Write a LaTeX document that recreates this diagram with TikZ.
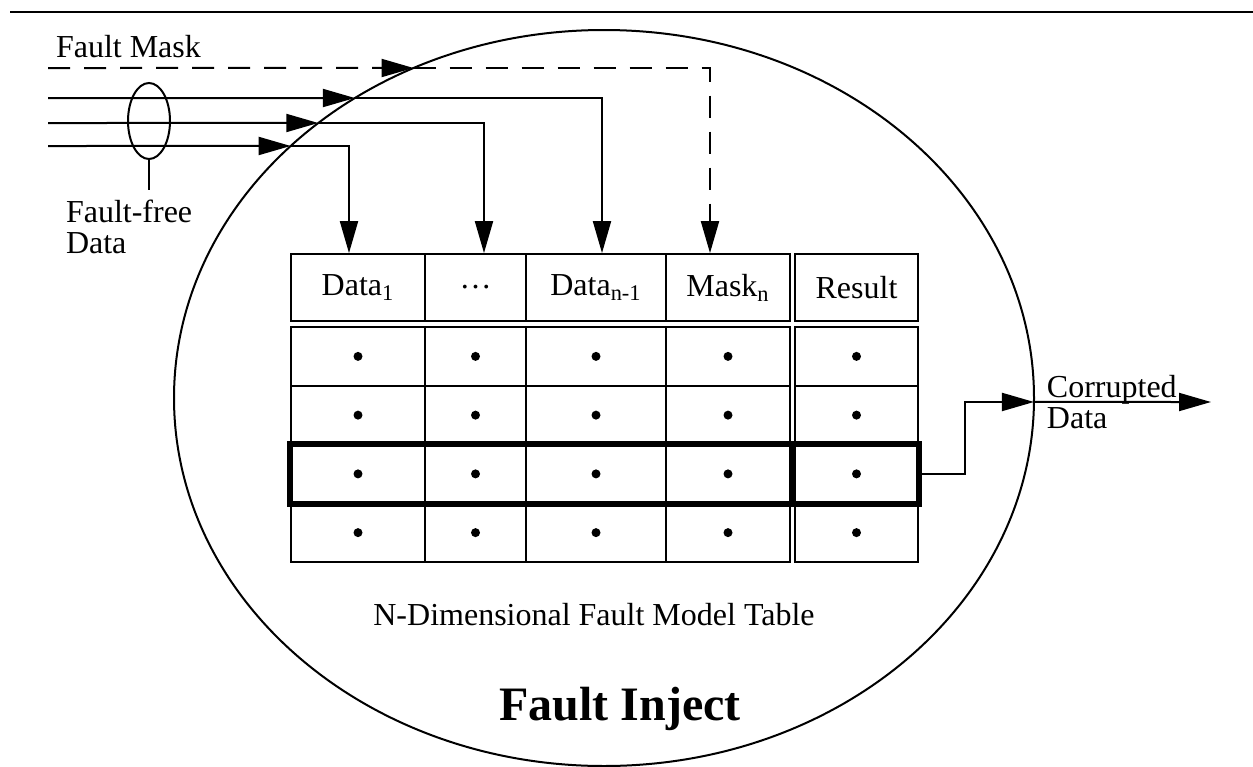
\documentclass[tikz,border=0pt]{standalone}
\usepackage{fontspec}
\setmainfont{Liberation Serif}
\usetikzlibrary{arrows.meta,              % .
                shapes.geometric,         % .
                intersections,            % .
                calc}

\begin{document}
\begin{tikzpicture}[x=0.5pt,y=-0.5pt,line width=1pt,
                    >={Triangle[length=16pt,width=9pt]}
                    ]
                % define styles
\tikzset{lbl/.style={font=\fontsize{16}{15.5}\selectfont,
                       inner sep=0,
                       },
         cell/.style={draw,
                       line width=0.9pt,
                       inner sep=0,
                       minimum height=29.375pt,
                       },
         head/.style={cell,
                       minimum height=33.5pt,
                       },
         celldot/.style={circle,
                       fill=black,
                       inner sep=0,
                       minimum size=4.5pt,
                       },
         hirow/.style={draw,
                       line width=3pt,
                       },
         maskline/.style={dash pattern=on 11pt off 7pt}
}

\useasboundingbox (0,0) rectangle (1253,766);

% top rule
\draw[line width=1.2pt] (10,12) -- (1253,12);

% fault injector outline
\draw[name path=inject] (604,398) ellipse [x radius=430, y radius=368];

% table header
\foreach \c/\cx/\w/\txt in {1/358/67/Data\textsubscript{1},
                            2/475.5/50.5/\dots,
                            3/596/70/Data\textsubscript{n-1},
                            4/728/62/Mask\textsubscript{n},
                            5/856.5/61.5/Result}
    \node[head, lbl, minimum width=\w pt] (h\c) at (\cx,287.5) {\txt};

% table rows
\foreach \r/\cy in {1/356.375, 2/415.125, 3/473.875, 4/532.625}
    \foreach \c/\cx/\w in {1/358/67, 2/475.5/50.5, 3/596/70, 4/728/62, 5/856.5/61.5}
    {
        \node[cell, minimum width=\w pt] (c\r\c) at (\cx,\cy) {};
        \node[celldot] (d\r\c) at (c\r\c) {};
    }

% selected row
\draw[hirow] (c31.north west) rectangle (c35.south east);
\draw[hirow] ($(c34.north east)!0.5!(c35.north west)$) -- ($(c34.south east)!0.5!(c35.south west)$);

% inputs
\coordinate (mask) at (48,68);
\foreach \i/\y in {1/146, 2/123, 3/98}
    \coordinate (in\i) at (48,\y);

% drop points above the header
\coordinate (t1) at ([xshift=-4.5pt]h1.north);
\coordinate (t2) at ([xshift=4.25pt]h2.north);
\coordinate (t3) at ([xshift=3pt]h3.north);
\coordinate (t4) at ([xshift=-9pt]h4.north);

\foreach \i in {1,2,3}{
    \path[name path=l\i] (in\i) -- (t\i |- in\i);
    \path[name intersections={of=inject and l\i, by={x\i}}];
    \draw[->] (in\i) -- (x\i);
    \draw[->] (x\i) -| (t\i);
}

% mask line
\path[name path=lm] (mask) -- (t4 |- mask);
\path[name intersections={of=inject and lm, by={xm}}];
\draw[->, maskline] (mask) -- (xm);
\draw[->, maskline] (xm) -| (t4);

% bundle of data lines
\node[draw, ellipse, minimum width=21pt, minimum height=38pt, inner sep=0] (bundle) at (149,121) {};

% labels
\node[lbl, anchor=base west] (fmask) at ([shift={(3.5pt,5.5pt)}]mask) {Fault Mask};
\node[lbl, align=left, anchor=north west, inner ysep=4.5pt] (ffree) at (65,190) {Fault-free\\Data};
\draw (bundle.south) -- (bundle.south |- ffree.north);

% output
\coordinate (out) at (1211,402);
\coordinate (jog) at ([xshift=23pt]c35.east);
\path[name path=exit] (jog |- out) -- (out);
\path[name intersections={of=inject and exit, by={xo}}];
\draw[->] (c35.east) -- (jog) |- (xo);
\draw[->] (xo) -- (out);
\node[lbl, align=left, anchor=west] (cdata) at ([xshift=6pt]xo) {Corrupted\\Data};

% titles
\node[lbl, anchor=base] (tname) at (594,625) {N-Dimensional Fault Model Table};
\node[lbl, anchor=base, font=\fontsize{24}{24}\selectfont\bfseries] (finject) at (620,720) {Fault Inject};

\end{tikzpicture}
\end{document}
